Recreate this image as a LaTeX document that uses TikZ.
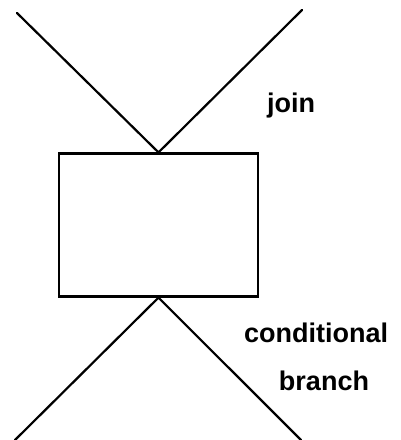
\documentclass[tikz,border=0pt]{standalone}
\usepackage{fontspec}
\setmainfont{Liberation Sans}
\begin{document}
\begin{tikzpicture}[x=1pt,y=-1pt,
  line/.style={line width=2.2pt, line cap=round},
  lbl/.style={font=\bfseries\fontsize{27}{31}\selectfont, inner sep=0pt}]
\useasboundingbox (0,0) rectangle (401,440);
\node[draw, line width=2.2pt, minimum width=199pt, minimum height=143pt, inner sep=0pt] (box) at (158.5,225) {};
\coordinate (tl) at (17,13);
\coordinate (tr) at (302,10);
\coordinate (bl) at (15,440);
\coordinate (br) at (301,440);
\draw[line] (tl) -- (box.north) -- (tr);
\draw[line] (bl) -- (box.south) -- (br);
\node[lbl] (join) at (291,106) {join};
\node[lbl] (cond) at (316,333) {conditional};
\node[lbl] (branch) at (324,381) {branch};
\end{tikzpicture}
\end{document}
